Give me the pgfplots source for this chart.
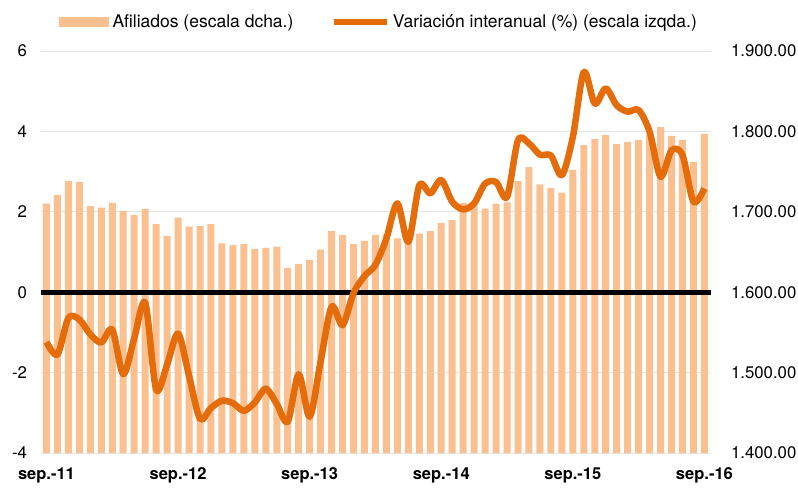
\documentclass[border=0pt]{standalone}
\usepackage{fontspec}
\setmainfont{TeX Gyre Heros}
\usepackage{pgfplots}
\pgfplotsset{compat=1.18}
\usepackage{pgfplotstable}
\definecolor{barc}{HTML}{FAC090}
\definecolor{linec}{HTML}{E46C0A}
\definecolor{gridc}{HTML}{E4E4E4}
\pgfplotstableread{
x bar line
1 1710.3 -1.24
2 1720.6 -1.55
3 1738.1 -0.64
4 1736.8 -0.68
5 1707.0 -1.05
6 1705.3 -1.25
7 1711.1 -0.93
8 1701.1 -2.04
9 1696.1 -1.15
10 1703.6 -0.26
11 1684.6 -2.42
12 1669.7 -1.80
13 1692.9 -1.03
14 1681.7 -2.08
15 1682.1 -3.15
16 1684.6 -2.88
17 1660.6 -2.70
18 1658.5 -2.76
19 1660.1 -2.95
20 1653.5 -2.74
21 1655.1 -2.40
22 1656.8 -2.78
23 1629.9 -3.22
24 1635.2 -2.04
25 1640.2 -3.10
26 1653.1 -1.72
27 1675.9 -0.36
28 1670.9 -0.82
29 1659.7 -0.02
30 1663.8 0.40
31 1671.3 0.68
32 1672.0 1.34
33 1666.8 2.21
34 1664.0 1.25
35 1673.0 2.66
36 1675.9 2.46
37 1686.0 2.79
38 1689.7 2.25
39 1710.8 2.06
40 1710.0 2.21
41 1704.1 2.70
42 1709.8 2.74
43 1711.6 2.37
44 1738.1 3.78
45 1755.5 3.70
46 1734.0 3.42
47 1729.4 3.40
48 1724.0 2.91
49 1752.1 3.86
50 1782.8 5.48
51 1790.3 4.69
52 1795.3 5.07
53 1784.1 4.65
54 1786.9 4.49
55 1789.4 4.53
56 1797.0 3.99
57 1805.2 2.87
58 1794.4 3.53
59 1789.4 3.41
60 1761.7 2.25
61 1796.9 2.58
}\datatable
\begin{document}
\begin{tikzpicture}
\useasboundingbox (-41pt,-35pt) rectangle (757pt,453pt);
\pgfplotsset{common/.style={scale only axis, width=670pt, height=402pt,
  at={(0pt,0pt)}, anchor=south west, xmin=0.5, xmax=61.6,
  axis line style={draw=none}, major tick length=0pt, tick style={draw=none}}}
\begin{axis}[common, ybar, bar width=7pt,
  ymin=1400, ymax=1900, ytick={1400,1500,1600,1700,1800,1900},
  yticklabels={1.400.00,1.500.00,1.600.00,1.700.00,1.800.00,1.900.00},
  yticklabel pos=right, xtick=\empty,
  ymajorgrids, grid style={gridc, line width=1pt},
  yticklabel style={font=\fontsize{16.8}{19}\selectfont, xshift=16.5pt}]
\addplot[fill=barc, draw=none] table[x=x, y=bar] {\datatable};
\end{axis}
\begin{axis}[common,
  ymin=-4, ymax=6, ytick={-4,-2,0,2,4,6},
  yticklabels={-4,-2,0,2,4,6}, yticklabel pos=left,
  xtick={1,13,25,37,49,61},
  xticklabels={sep.-11,sep.-12,sep.-13,sep.-14,sep.-15,sep.-16},
  xticklabel style={font=\fontsize{16.5}{19}\selectfont\bfseries, yshift=-11pt},
  yticklabel style={font=\fontsize{16.8}{19}\selectfont, xshift=-10.5pt},
  legend style={at={(0.5,1)}, anchor=center, xshift=3pt, yshift=29pt, draw=none, fill=none,
    font=\fontsize{17.5}{20}\selectfont,
    /tikz/every even column/.append style={column sep=35pt},
    nodes={inner sep=2pt}},
  legend columns=2]
\addlegendimage{legend image code/.code={\fill[barc] (0pt,-4.5pt) rectangle (49pt,4.5pt);}}
\addlegendentry{\hspace{2pt}Afiliados (escala dcha.)}
\addplot[black, line width=5pt, forget plot] coordinates {(0.5,0) (61.6,0)};
\addplot[linec, line width=6.5pt, smooth, line join=round,
  legend image code/.code={\draw[linec, line width=6.5pt] (0pt,0pt) -- (53pt,0pt);}]
  table[x=x, y=line] {\datatable};
\addlegendentry{\hspace{1pt}Variación interanual (\%) (escala izqda.)}
\end{axis}
\end{tikzpicture}
\end{document}
